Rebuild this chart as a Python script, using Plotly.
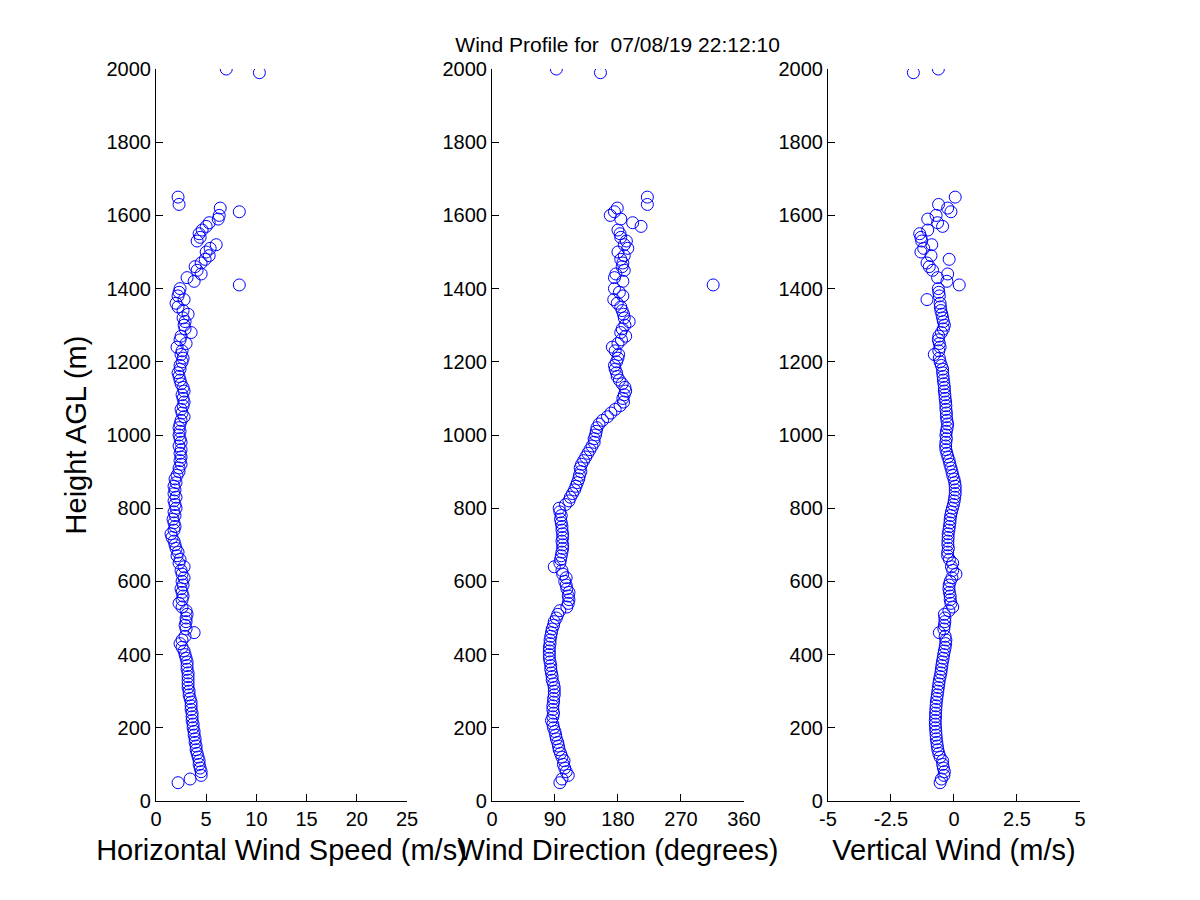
import plotly.graph_objects as go
from plotly.subplots import make_subplots

# range gate heights (m AGL)
heights = [
    50, 60, 70, 80, 90, 100, 110, 120, 130, 140,
    150, 160, 170, 180, 190, 200, 210, 220, 230, 240,
    250, 260, 270, 280, 290, 300, 310, 320, 330, 340,
    350, 360, 370, 380, 390, 400, 410, 420, 430, 440,
    450, 460, 470, 480, 490, 500, 510, 520, 530, 540,
    550, 560, 570, 580, 590, 600, 610, 620, 630, 640,
    650, 660, 670, 680, 690, 700, 710, 720, 730, 740,
    750, 760, 770, 780, 790, 800, 810, 820, 830, 840,
    850, 860, 870, 880, 890, 900, 910, 920, 930, 940,
    950, 960, 970, 980, 990, 1000, 1010, 1020, 1030, 1040,
    1050, 1060, 1070, 1080, 1090, 1100, 1110, 1120, 1130, 1140,
    1150, 1160, 1170, 1180, 1190, 1200, 1210, 1220, 1230, 1240,
    1250, 1260, 1270, 1280, 1290, 1300, 1310, 1320, 1330, 1340,
    1350, 1360, 1370, 1380, 1390, 1400, 1410, 1420, 1430, 1440,
    1450, 1460, 1470, 1480, 1490, 1500, 1510, 1520, 1530, 1540,
    1550, 1560, 1570, 1580, 1590, 1600, 1610, 1620, 1630, 1650,
    1990, 2000,
]

# horizontal wind speed (m/s)
speed = [
    2.2, 3.4, 4.5, 4.5, 4.4, 4.3, 4.3, 4.2, 4.1, 4.0,
    4.0, 3.9, 3.9, 3.8, 3.8, 3.7, 3.7, 3.6, 3.6, 3.6,
    3.5, 3.5, 3.5, 3.4, 3.3, 3.3, 3.2, 3.2, 3.2, 3.2,
    3.2, 3.1, 3.1, 3.1, 3.0, 2.9, 2.8, 2.6, 2.4, 2.6,
    2.9, 3.8, 3.0, 2.9, 3.0, 3.0, 3.1, 3.0, 2.6, 2.3,
    2.6, 2.7, 2.6, 2.5, 2.7, 2.6, 2.8, 2.6, 2.5, 2.8,
    2.3, 2.4, 2.1, 2.2, 2.0, 1.9, 1.8, 1.6, 1.5, 1.8,
    1.9, 1.8, 1.7, 1.9, 1.8, 2.0, 1.9, 1.8, 2.0, 1.8,
    1.9, 1.8, 2.0, 1.9, 2.1, 2.3, 2.3, 2.5, 2.4, 2.5,
    2.4, 2.5, 2.3, 2.5, 2.4, 2.3, 2.4, 2.3, 2.4, 2.5,
    2.8, 2.6, 2.5, 2.7, 2.8, 2.7, 2.6, 2.8, 2.7, 2.5,
    2.4, 2.3, 2.2, 2.4, 2.4, 2.6, 2.7, 2.5, 2.6, 2.1,
    3.0, 2.4, 2.5, 3.5, 2.9, 2.8, 2.9, 2.7, 3.2, 2.7,
    2.2, 2.0, 2.8, 2.2, 2.3, 2.4, 8.3, 3.8, 3.1, 4.5,
    4.1, 3.9, 4.5, 4.9, 5.3, 5.0, 5.4, 6.0, 4.1, 4.4,
    4.3, 4.6, 5.0, 5.3, 6.2, 6.3, 8.3, 6.4, 2.3, 2.2,
    10.3, 7.0,
]

# wind direction (degrees)
direction = [
    97, 100, 109, 106, 104, 102, 103, 100, 98, 96,
    95, 94, 92, 91, 90, 88, 87, 85, 87, 88,
    87, 87, 88, 88, 89, 89, 89, 88, 86, 86,
    85, 84, 84, 83, 82, 82, 82, 82, 83, 83,
    84, 85, 86, 88, 89, 92, 94, 97, 107, 109,
    110, 109, 110, 107, 106, 104, 106, 101, 100, 89,
    97, 98, 99, 100, 101, 101, 100, 101, 101, 100,
    100, 99, 98, 99, 97, 96, 105, 110, 112, 115,
    118, 120, 122, 124, 125, 127, 126, 128, 131, 134,
    137, 140, 143, 146, 146, 148, 149, 150, 153, 158,
    165, 170, 176, 183, 188, 187, 189, 191, 190, 186,
    182, 179, 178, 176, 175, 178, 180, 181, 176, 172,
    180, 185, 191, 184, 186, 190, 196, 189, 188, 186,
    184, 179, 174, 187, 182, 175, 316, 187, 175, 177,
    189, 186, 187, 184, 189, 180, 194, 189, 192, 184,
    183, 180, 213, 201, 184, 169, 175, 179, 222, 222,
    155, 92,
]

# vertical wind (m/s)
vertical = [
    -0.55, -0.5, -0.4, -0.38, -0.42, -0.45, -0.45, -0.55, -0.6, -0.64,
    -0.66, -0.68, -0.7, -0.71, -0.72, -0.73, -0.74, -0.74, -0.73, -0.73,
    -0.72, -0.71, -0.7, -0.68, -0.66, -0.64, -0.62, -0.6, -0.58, -0.55,
    -0.52, -0.5, -0.48, -0.46, -0.43, -0.41, -0.38, -0.35, -0.33, -0.32,
    -0.35, -0.58, -0.4, -0.38, -0.36, -0.36, -0.38, -0.2, -0.05, -0.12,
    -0.15, -0.15, -0.18, -0.2, -0.19, -0.15, -0.08, 0.08, -0.05, -0.1,
    -0.05, -0.18, -0.25, -0.25, -0.22, -0.24, -0.24, -0.23, -0.23, -0.2,
    -0.18, -0.16, -0.15, -0.13, -0.1, -0.06, -0.02, 0.01, 0.03, 0.05,
    0.05, 0.05, 0.03, 0.0, -0.05, -0.08, -0.12, -0.16, -0.19, -0.24,
    -0.28, -0.32, -0.33, -0.32, -0.3, -0.32, -0.3, -0.27, -0.25, -0.28,
    -0.3, -0.3, -0.32, -0.32, -0.33, -0.35, -0.36, -0.38, -0.38, -0.4,
    -0.42, -0.43, -0.45, -0.45, -0.5, -0.55, -0.58, -0.78, -0.6, -0.55,
    -0.58, -0.62, -0.6, -0.5, -0.42, -0.38, -0.42, -0.45, -0.48, -0.52,
    -0.54, -0.55, -1.07, -0.58, -0.6, -0.62, 0.21, -0.28, -0.65, -0.25,
    -0.85, -0.98, -1.07, -0.19, -0.91, -1.31, -1.2, -0.88, -1.28, -1.31,
    -1.36, -1.04, -0.45, -0.65, -1.04, -0.71, -0.12, -0.25, -0.61, 0.05,
    -1.61, -0.62,
]

title_text = "Wind Profile for  07/08/19 22:12:10"
y_ticks = [0, 200, 400, 600, 800, 1000, 1200, 1400, 1600, 1800, 2000]
speed_ticks = [0, 5, 10, 15, 20, 25]
dir_ticks = [0, 90, 180, 270, 360]
vert_ticks = [-5, -2.5, 0, 2.5, 5]
vert_labels = ["-5", "-2.5", "0", "2.5", "5"]

FONT = "Liberation Sans"
BLUE = "#0000ff"

fig = make_subplots(rows=1, cols=3)

panels = [
    (speed, "Horizontal Wind Speed (m/s)", [0, 25], speed_ticks, None),
    (direction, "Wind Direction (degrees)", [0, 360], dir_ticks, None),
    (vertical, "Vertical Wind (m/s)", [-5, 5], vert_ticks, vert_labels),
]

# page body adds ~7px offset, so domains are shifted accordingly
domains = [(0.1233, 0.3325), (0.4033, 0.6133), (0.6833, 0.8933)]

for i, (vals, label, xr, xt, xl) in enumerate(panels):
    fig.add_trace(go.Scatter(
        x=vals, y=heights, mode="markers",
        marker=dict(symbol="circle-open", size=12, color=BLUE,
                    line=dict(width=1, color=BLUE)),
        showlegend=False, hoverinfo="x+y",
    ), row=1, col=i + 1)

    fig.update_xaxes(
        range=xr, tickvals=xt, ticktext=xl, domain=domains[i], automargin=False,
        showline=True, linecolor="black", linewidth=1, mirror=False,
        ticks="inside", ticklen=7, tickcolor="black", showgrid=False,
        zeroline=False, tickfont=dict(family=FONT, size=20, color="black"),
        title=dict(text=label, font=dict(family=FONT, size=29, color="black"), standoff=10),
        row=1, col=i + 1,
    )
    fig.update_yaxes(
        range=[0, 2000], tickvals=y_ticks, domain=[0.1189, 0.9322], automargin=False,
        showline=True, linecolor="black", linewidth=1, mirror=False,
        ticks="inside", ticklen=7, tickcolor="black", showgrid=False,
        zeroline=False, tickfont=dict(family=FONT, size=20, color="black"),
        row=1, col=i + 1,
    )

fig.update_yaxes(
    title=dict(text="Height AGL (m)", font=dict(family=FONT, size=29, color="black"), standoff=11),
    row=1, col=1,
)

fig.update_layout(
    width=1200, height=900,
    margin=dict(l=0, r=0, t=0, b=0),
    paper_bgcolor="white", plot_bgcolor="white",
    title=dict(text=title_text, x=0.508, xanchor="center", y=0.959, yanchor="middle",
               font=dict(family=FONT, size=21, color="black")),
)

fig.write_html("out.html")
